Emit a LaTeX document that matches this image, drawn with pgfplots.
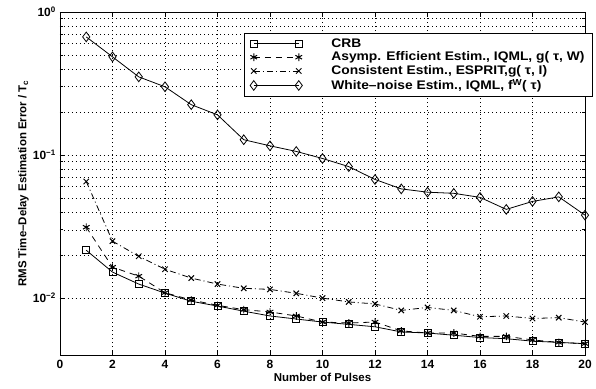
\documentclass[border=0pt]{standalone}
\usepackage{fontspec}
\setmainfont{Liberation Sans}
\newfontfamily\legfont{Liberation Sans}[FakeStretch=1.11]
\usepackage{pgfplots}
\pgfplotsset{compat=1.18}
\begin{document}
\fontsize{12}{14}\selectfont\bfseries
\begin{tikzpicture}
\useasboundingbox (-60bp,-34bp) rectangle (536bp,355bp);
\begin{axis}[
  at={(0,0)}, anchor=south west,
  scale only axis, width=525bp, height=343bp,
  ymode=log,
  xmin=0, xmax=20, ymin=4e-3, ymax=1,
  xtick={0,2,...,20},
  ytick={0.01,0.1,1},
  yticklabels={10\textsuperscript{−2},10\textsuperscript{−1},10\textsuperscript{0}},
  /pgf/number format/assume math mode=true,
  tick align=inside, tick pos=both,
  major tick length=5bp, minor tick length=3bp,
  xmajorgrids, ymajorgrids, yminorgrids,
  major grid style={black, line width=0.6pt, dash pattern=on 0.7bp off 3.3bp},
  minor grid style={black, line width=0.6pt, dash pattern=on 0.7bp off 3.3bp},
  axis line style={line width=1pt},
  tick style={black, line width=0.7pt},
  tick label style={font=\fontsize{12}{14}\selectfont\bfseries},
  xticklabel style={yshift=-1bp},
  xlabel={Number of Pulses},
  ylabel={RMS Time–Delay Estimation Error / T\textsubscript{c}},
  label style={font=\fontsize{11.5}{13}\selectfont\bfseries},
  xlabel style={yshift=4bp},
  ylabel style={yshift=-4bp},
  legend style={at={(0.350,0.939)}, anchor=north west, draw=black, line width=0.8pt, fill=white,
    font=\fontsize{12.5}{14}\legfont\bfseries, row sep=-1bp, inner xsep=6bp, inner ysep=3bp,
    /tikz/every odd column/.append style={column sep=27bp}},
  legend cell align=left,
  legend image code/.code={\draw[#1] plot coordinates {(0bp,0bp) (45bp,0bp)};},
]
\addplot[black, line width=0.8pt, mark=square, mark size=3.5bp, mark options={solid}] coordinates {
(1,0.0216)(2,0.0152)(3,0.01253)(4,0.01084)(5,0.0095)(6,0.0088)(7,0.0081)(8,0.0075)(9,0.00714)(10,0.0068)
(11,0.00655)(12,0.0063)(13,0.0058)(14,0.0057)(15,0.0055)(16,0.0053)(17,0.0052)(18,0.0050)(19,0.0049)(20,0.0048)};
\addlegendentry{CRB}
\addplot[black, line width=0.8pt, dash pattern=on 6bp off 5bp, mark=asterisk, mark size=3.8bp, mark options={solid, line width=1pt}] coordinates {
(1,0.0313)(2,0.01645)(3,0.01423)(4,0.0109)(5,0.0097)(6,0.0089)(7,0.0083)(8,0.0080)(9,0.0075)(10,0.0068)
(11,0.0067)(12,0.0068)(13,0.0059)(14,0.0057)(15,0.0057)(16,0.0054)(17,0.0054)(18,0.0051)(19,0.0049)(20,0.0048)};
\addlegendentry{Asymp. Efficient Estim., IQML, g( τ, W)}
\addplot[black, line width=0.8pt, dash pattern=on 6bp off 3bp on 1bp off 3bp, mark=x, mark size=3.8bp, mark options={solid, line width=1pt}] coordinates {
(1,0.0653)(2,0.0250)(3,0.0196)(4,0.0159)(5,0.0138)(6,0.01253)(7,0.0117)(8,0.0115)(9,0.0108)(10,0.0100)
(11,0.0094)(12,0.0091)(13,0.0082)(14,0.0086)(15,0.0082)(16,0.0074)(17,0.0075)(18,0.0072)(19,0.0073)(20,0.0068)};
\addlegendentry{Consistent Estim., ESPRIT,g( τ, I)}
\addplot[black, line width=0.8pt, mark=diamond, mark size=4.8bp, mark options={solid}] coordinates {
(1,0.67)(2,0.486)(3,0.352)(4,0.30)(5,0.225)(6,0.191)(7,0.128)(8,0.116)(9,0.106)(10,0.0946)
(11,0.083)(12,0.0675)(13,0.058)(14,0.055)(15,0.054)(16,0.0506)(17,0.0417)(18,0.0474)(19,0.051)(20,0.038)};
\addlegendentry{White–noise Estim., IQML, f\textsuperscript{W}( τ)}
\end{axis}
\end{tikzpicture}
\end{document}
